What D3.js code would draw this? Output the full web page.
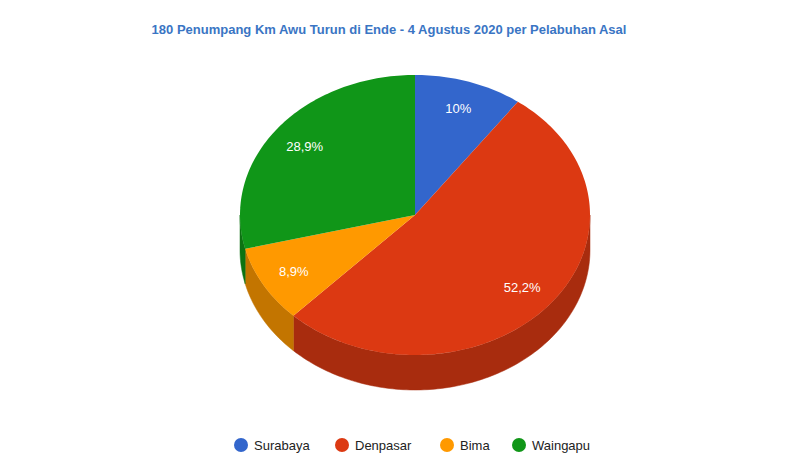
<!DOCTYPE html>
<html><head><meta charset="utf-8">
<script src="https://cdn.jsdelivr.net/npm/d3@7"></script>
<style>body{margin:0;background:#fff}svg{display:block;font-family:"Liberation Sans",Arial,sans-serif}</style>
</head><body>
<svg id="c" width="809" height="473"></svg>
<script>
const categories = ["Surabaya","Denpasar","Bima","Waingapu"];
const values = [18, 94, 16, 52];
const colors = ["#3366cc","#dc3912","#ff9900","#109618"];
const title = "180 Penumpang Km Awu Turun di Ende - 4 Agustus 2020 per Pelabuhan Asal";

const svg = d3.select("#c");
const cx = 415, cy = 215, rx = 175, ry = 140, depth = 35;
const total = d3.sum(values);
const arcs = d3.pie().sort(null)(values);
const pt = (a, dy=0, k=1) => [cx + rx*k*Math.sin(a), cy - ry*k*Math.cos(a) + dy];

function arcPts(a0, a1, dy) {
  const n = Math.max(2, Math.ceil((a1-a0)/0.02));
  return d3.range(n+1).map(i => pt(a0 + (a1-a0)*i/n, dy));
}
// sides
const sideG = svg.append("g");
arcs.forEach((d,i) => {
  const a0 = Math.max(d.startAngle, Math.PI/2), a1 = Math.min(d.endAngle, 3*Math.PI/2);
  if (a1 <= a0) return;
  const top = arcPts(a0, a1, 0), bot = arcPts(a0, a1, depth).reverse();
  sideG.append("path").attr("d", d3.line()(top.concat(bot)) + "Z")
    .attr("fill", d3.color(colors[i]).darker(0.75)).attr("stroke", d3.color(colors[i]).darker(0.75)).attr("stroke-width",0.5);
});
// tops
const topG = svg.append("g");
arcs.forEach((d,i) => {
  const p = [[cx,cy]].concat(arcPts(d.startAngle, d.endAngle, 0));
  topG.append("path").attr("d", d3.line()(p) + "Z").attr("fill", colors[i]);
});
// labels
arcs.forEach((d,i) => {
  const m = (d.startAngle + d.endAngle)/2;
  const [x,y] = pt(m, 0, 0.8);
  const pct = (values[i]/total*100).toFixed(1).replace(/\.0$/,"").replace(".",",") + "%";
  svg.append("text").attr("x",x).attr("y",y).attr("dy","0.35em").attr("text-anchor","middle")
    .attr("fill","#fff").attr("font-size",13).text(pct);
});
// title
svg.append("text").attr("x",389).attr("y",34).attr("text-anchor","middle")
  .attr("font-size",13).attr("font-weight","bold").attr("fill","#3a75c4").text(title);
// legend
const lx = [241, 342, 447, 519];
categories.forEach((c,i) => {
  svg.append("circle").attr("cx",lx[i]).attr("cy",445).attr("r",7).attr("fill",colors[i]);
  svg.append("text").attr("x",lx[i]+13).attr("y",445).attr("dy","0.35em")
    .attr("font-size",13).attr("fill","#222").text(c);
});
</script>
</body></html>
